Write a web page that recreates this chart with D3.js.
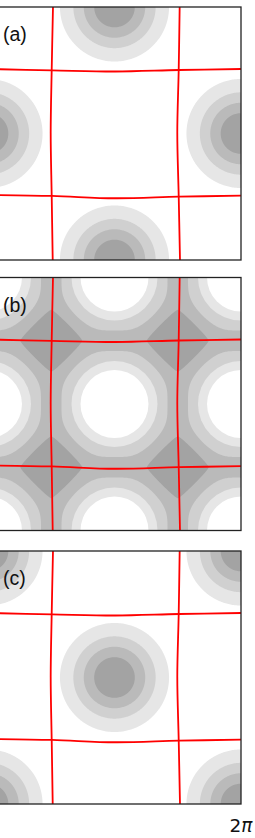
<!DOCTYPE html>
<html>
<head>
<meta charset="utf-8">
<script src="https://cdn.jsdelivr.net/npm/d3@7"></script>
<style>
  html, body { margin: 0; padding: 0; background: #fff; }
  svg { display: block; }
</style>
</head>
<body>
<div id="chart"></div>
<script>
// ── Three periodic density maps with filled contours + red cell boundaries ──

const PI = Math.PI;
const TWO_PI = 2 * PI;

const panelLabels = ['(a)', '(b)', '(c)'];
const xTickLabel = ['2', 'π'];

// grey bands, light → dark
const bandColors = ['#e6e6e6', '#d0d0d0', '#bababa', '#a3a3a3'];

// (a), (c): gaussian blobs, centres in units of π, width in radians
const levelsAC = [0.2, 0.4, 0.6, 0.8];
const blobWidth = 0.755;
const blobsA = [[1, 0], [0, 1], [2, 1], [1, 2]];
const blobsC = [[0, 0], [2, 0], [1, 1], [0, 2], [2, 2]];

// (b): holes at every lattice site (units of π)
const holeSites = [[0, 0], [1, 0], [2, 0], [0, 1], [1, 1], [2, 1], [0, 2], [1, 2], [2, 2]];
const holeRadii = [1.068, 0.844];               // outer edge of light, white (radians)
const holeColors = ['#e6e6e6', '#ffffff'];
const midReach = 1.316;                          // rounded-square mid band, axis reach
const midRound = 4;
const diamondReach = 0.77;                       // dark diamonds between sites
const diamondRound = 1.25;

// red boundary lines, [x, y] in radians
const redLines = [
  [[1.614, 0], [1.582, 1.564], [1.557, 3.129], [1.582, 4.693], [1.607, 6.283]],
  [[4.760, 0], [4.736, 1.564], [4.701, 3.129], [4.736, 4.693], [4.768, 6.283]],
  [[0, 1.540], [1.589, 1.572], [3.154, 1.602], [4.743, 1.564], [6.283, 1.540]],
  [[0, 4.668], [1.589, 4.693], [3.154, 4.750], [4.743, 4.711], [6.283, 4.686]],
];

// ── layout ──
const W = 255, H = 838;
const size = 253;
const left = -12;
const tops = [7, 277.5, 551];

const svg = d3.select('#chart').append('svg')
  .attr('width', W)
  .attr('height', H);

const N = 254; // grid samples per side

function blobField(centres) {
  const s2 = 2 * blobWidth * blobWidth;
  return (x, y) => {
    let v = 0;
    centres.forEach(([cx, cy]) => {
      const dx = x - cx * PI, dy = y - cy * PI;
      v += Math.exp(-(dx * dx + dy * dy) / s2);
    });
    return v;
  };
}

// p-norm of |trig x|, |trig y|, negated so that "inside" is the high side
function pNormField(trig, p) {
  return (x, y) => -Math.pow(
    Math.pow(Math.abs(trig(x)), p) + Math.pow(Math.abs(trig(y)), p), 1 / p);
}

function contourBands(g, field, levels, colors, xs, ys) {
  const values = new Float64Array(N * N);
  for (let j = 0; j < N; j++) {
    for (let i = 0; i < N; i++) {
      values[j * N + i] = field((i + 0.5) / N * TWO_PI, (j + 0.5) / N * TWO_PI);
    }
  }
  const contours = d3.contours().size([N, N]).thresholds(levels)(values);
  const path = d3.geoPath(d3.geoTransform({
    point(x, y) { this.stream.point(xs(x / N * TWO_PI), ys(y / N * TWO_PI)); }
  }));
  g.append('g').selectAll('path')
    .data(contours)
    .join('path')
      .attr('d', path)
      .attr('fill', (d, i) => colors[i]);
}

[0, 1, 2].forEach(k => {
  const top = tops[k];
  const xs = d3.scaleLinear().domain([0, TWO_PI]).range([left, left + size]);
  const ys = d3.scaleLinear().domain([0, TWO_PI]).range([top, top + size]);

  const clipId = 'clip' + k;
  svg.append('clipPath').attr('id', clipId)
    .append('rect')
      .attr('x', left).attr('y', top)
      .attr('width', size).attr('height', size);

  const g = svg.append('g').attr('clip-path', `url(#${clipId})`);

  if (k === 1) {
    g.append('rect')
      .attr('x', left).attr('y', top)
      .attr('width', size).attr('height', size)
      .attr('fill', bandColors[2]);

    // mid band: rounded squares round each site
    contourBands(g, pNormField(Math.sin, midRound), [-Math.sin(midReach)], [bandColors[1]], xs, ys);

    holeRadii.forEach((r, ri) => {
      g.append('g').selectAll('circle')
        .data(holeSites)
        .join('circle')
          .attr('cx', d => xs(d[0] * PI))
          .attr('cy', d => ys(d[1] * PI))
          .attr('r', xs(r) - xs(0))
          .attr('fill', holeColors[ri]);
    });

    contourBands(g, pNormField(Math.cos, diamondRound), [-Math.sin(diamondReach)], [bandColors[3]], xs, ys);
  } else {
    contourBands(g, blobField(k === 0 ? blobsA : blobsC), levelsAC, bandColors, xs, ys);
  }

  const line = d3.line()
    .x(d => xs(d[0]))
    .y(d => ys(d[1]))
    .curve(d3.curveCatmullRom);

  g.selectAll('path.red')
    .data(redLines)
    .join('path')
      .attr('class', 'red')
      .attr('d', line)
      .attr('fill', 'none')
      .attr('stroke', '#ff0000')
      .attr('stroke-width', 1.8);

  svg.append('rect')
    .attr('x', left).attr('y', top)
    .attr('width', size).attr('height', size)
    .attr('fill', 'none')
    .attr('stroke', '#222')
    .attr('stroke-width', 1.3);

  svg.append('text')
    .attr('x', 3)
    .attr('y', top + 34)
    .attr('font-family', '"Liberation Sans", Arial, sans-serif')
    .attr('font-size', 19.5)
    .attr('fill', '#111')
    .text(panelLabels[k]);
});

// x tick label at 2π, under the last panel
const tick = svg.append('text')
  .attr('x', left + size)
  .attr('y', 832)
  .attr('text-anchor', 'middle')
  .attr('font-family', '"DejaVu Sans", sans-serif')
  .attr('font-size', 18.5)
  .attr('fill', '#111');
tick.append('tspan').text(xTickLabel[0]);
tick.append('tspan').attr('font-style', 'italic').text(xTickLabel[1]);
</script>
</body>
</html>
